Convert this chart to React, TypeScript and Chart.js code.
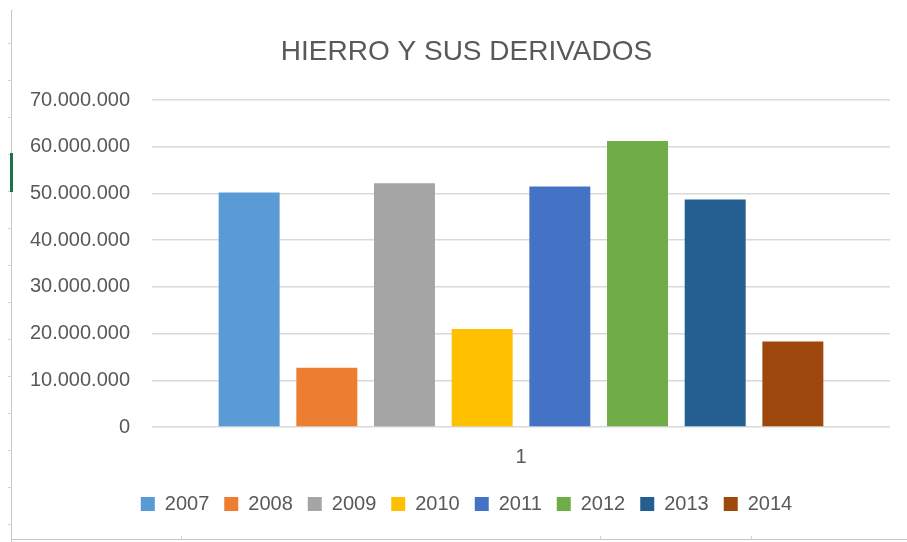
import React, { useEffect, useRef } from "react";
import { Chart, registerables } from "chart.js";

Chart.register(...registerables);

const categories = ["1"];
const seriesNames = ["2007", "2008", "2009", "2010", "2011", "2012", "2013", "2014"];
const seriesValues = [50200000, 12700000, 52200000, 21000000, 51500000, 61200000, 48700000, 18300000];
const seriesColors = ["#5B9BD5", "#ED7D31", "#A5A5A5", "#FFC000", "#4472C4", "#70AD47", "#255E91", "#9E480E"];
const yTicks = [0, 10000000, 20000000, 30000000, 40000000, 50000000, 60000000, 70000000];
const titleText = "HIERRO Y SUS DERIVADOS";

const fmt = (v: number) => String(Math.round(v)).replace(/\B(?=(\d{3})+(?!\d))/g, ".");

const sheetRowMarks = [43, 80, 117, 154, 191, 228, 265, 302, 339, 376, 413, 450, 487, 524];
const sheetColMarks = [181, 600, 751];

export default function App() {
  const ref = useRef<HTMLCanvasElement>(null);
  useEffect(() => {
    if (!ref.current) return;
    const chart = new Chart(ref.current, {
      type: "bar",
      data: {
        labels: categories,
        datasets: seriesNames.map((n, i) => ({
          label: n,
          data: [seriesValues[i]],
          backgroundColor: seriesColors[i],
          borderWidth: 0,
          categoryPercentage: 0.842,
          barPercentage: 0.785,
        })),
      },
      options: {
        responsive: false,
        animation: false,
        devicePixelRatio: 1,
        layout: { padding: { left: 26, right: 0, top: 0, bottom: 18 } },
        plugins: {
          title: {
            display: true,
            text: titleText,
            color: "#595959",
            font: { family: "'Liberation Sans', Arial, sans-serif", size: 28, weight: "normal" },
            padding: { top: 35, bottom: 31.4 },
          },
          legend: {
            position: "bottom",
            labels: {
              boxWidth: 14,
              boxHeight: 14,
              padding: 15,
              color: "#595959",
              font: { family: "'Liberation Sans', Arial, sans-serif", size: 20 },
            },
          },
          tooltip: { enabled: false },
        },
        scales: {
          x: {
            grid: { display: false },
            border: { display: false },
            ticks: {
              color: "#595959",
              padding: 10,
              font: { family: "'Liberation Sans', Arial, sans-serif", size: 20 },
            },
          },
          y: {
            min: 0,
            max: 70000000,
            afterBuildTicks: (s: any) => {
              s.ticks = yTicks.map((v) => ({ value: v }));
            },
            afterFit: (s: any) => {
              s.width = 126;
            },
            grid: { color: "#d9d9d9", lineWidth: 1.5, drawTicks: false },
            border: { display: false },
            ticks: {
              color: "#595959",
              padding: 22,
              font: { family: "'Liberation Sans', Arial, sans-serif", size: 20 },
              callback: (v: any) => fmt(Number(v)),
            },
          },
          yR: {
            type: "linear",
            position: "right",
            display: true,
            grid: { display: false },
            border: { display: false },
            ticks: { display: false },
            afterFit: (s: any) => {
              s.width = 17;
            },
          },
        },
      },
    });
    return () => chart.destroy();
  }, []);

  return (
    <div style={{ position: "fixed", left: 0, top: 0, width: 907, height: 542, background: "#ffffff", overflow: "hidden" }}>
      <div style={{ position: "absolute", left: 11, top: 10, width: 1, height: 532, background: "#c6c6c6" }} />
      {sheetRowMarks.map((y) => (
        <div key={"r" + y} style={{ position: "absolute", left: 8, top: y, width: 4, height: 1, background: "#d0d0d0" }} />
      ))}
      <div style={{ position: "absolute", left: 10, top: 153, width: 3, height: 39, background: "#217346" }} />
      <div style={{ position: "absolute", left: 11, top: 539, width: 896, height: 1, background: "#c6c6c6" }} />
      {sheetColMarks.map((x) => (
        <div key={"c" + x} style={{ position: "absolute", left: x, top: 536, width: 1, height: 4, background: "#d0d0d0" }} />
      ))}
      <canvas ref={ref} width={907} height={542} style={{ position: "absolute", left: 0, top: 0, width: 907, height: 542 }} />
    </div>
  );
}
